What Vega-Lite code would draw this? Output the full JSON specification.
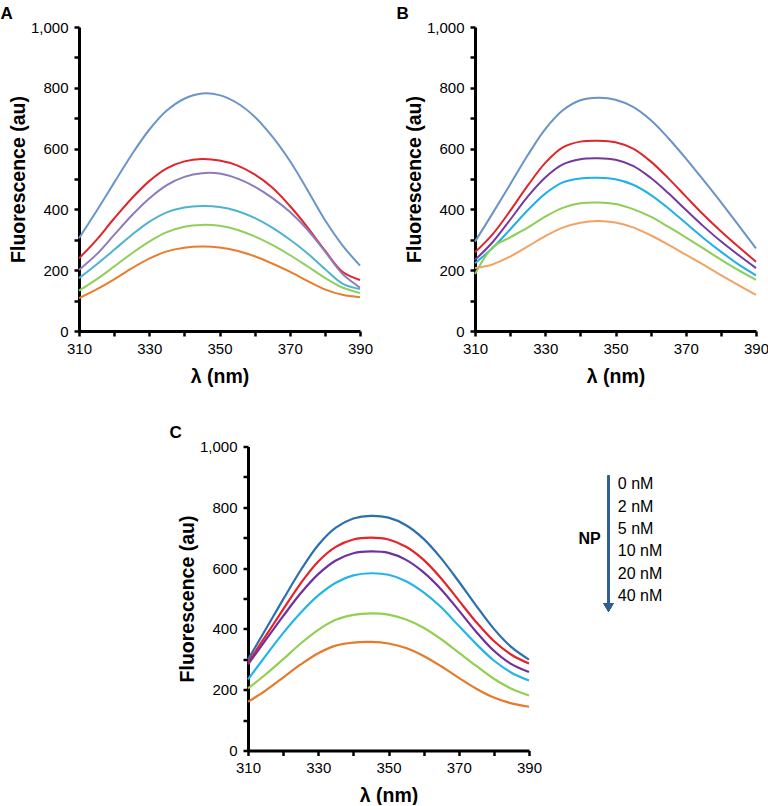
{
  "$schema": "https://vega.github.io/schema/vega-lite/v6.json",
  "padding": {"left": 0, "top": 4, "right": 0, "bottom": 0},
  "config": {
    "view": {"stroke": null},
    "font": "Liberation Sans",
    "axis": {"domainColor": "black", "domainWidth": 3, "tickColor": "black", "tickWidth": 2.5, "tickSize": 5, "labelFont": "Liberation Sans", "labelFontSize": 15, "labelColor": "black", "labelOverlap": false, "labelFlush": false, "titleFont": "Liberation Sans", "titleFontSize": 19.5, "titleFontWeight": "bold", "titleColor": "black", "grid": false},
    "title": {"font": "Liberation Sans", "fontSize": 17, "fontWeight": "bold", "anchor": "start", "color": "black", "offset": -2.5, "dx": -8}
  },
  "datasets": {
    "a": [
      {"nm":310,"np":"0 nM","f":305},{"nm":315,"np":"0 nM","f":395},{"nm":320,"np":"0 nM","f":488},{"nm":325,"np":"0 nM","f":580},{"nm":330,"np":"0 nM","f":662},{"nm":335,"np":"0 nM","f":725},{"nm":340,"np":"0 nM","f":764},{"nm":345,"np":"0 nM","f":781},{"nm":350,"np":"0 nM","f":776},{"nm":355,"np":"0 nM","f":750},{"nm":360,"np":"0 nM","f":705},{"nm":365,"np":"0 nM","f":640},{"nm":370,"np":"0 nM","f":560},{"nm":375,"np":"0 nM","f":465},{"nm":380,"np":"0 nM","f":365},{"nm":385,"np":"0 nM","f":282},{"nm":390,"np":"0 nM","f":215},
      {"nm":310,"np":"2 nM","f":239},{"nm":315,"np":"2 nM","f":300},{"nm":320,"np":"2 nM","f":370},{"nm":325,"np":"2 nM","f":436},{"nm":330,"np":"2 nM","f":493},{"nm":335,"np":"2 nM","f":535},{"nm":340,"np":"2 nM","f":558},{"nm":345,"np":"2 nM","f":566},{"nm":350,"np":"2 nM","f":561},{"nm":355,"np":"2 nM","f":545},{"nm":360,"np":"2 nM","f":515},{"nm":365,"np":"2 nM","f":472},{"nm":370,"np":"2 nM","f":412},{"nm":375,"np":"2 nM","f":342},{"nm":380,"np":"2 nM","f":265},{"nm":385,"np":"2 nM","f":195},{"nm":390,"np":"2 nM","f":168},
      {"nm":310,"np":"5 nM","f":201},{"nm":315,"np":"5 nM","f":252},{"nm":320,"np":"5 nM","f":316},{"nm":325,"np":"5 nM","f":380},{"nm":330,"np":"5 nM","f":436},{"nm":335,"np":"5 nM","f":480},{"nm":340,"np":"5 nM","f":507},{"nm":345,"np":"5 nM","f":519},{"nm":350,"np":"5 nM","f":518},{"nm":355,"np":"5 nM","f":502},{"nm":360,"np":"5 nM","f":475},{"nm":365,"np":"5 nM","f":438},{"nm":370,"np":"5 nM","f":392},{"nm":375,"np":"5 nM","f":334},{"nm":380,"np":"5 nM","f":262},{"nm":385,"np":"5 nM","f":188},{"nm":390,"np":"5 nM","f":143},
      {"nm":310,"np":"10 nM","f":174},{"nm":315,"np":"10 nM","f":219},{"nm":320,"np":"10 nM","f":267},{"nm":325,"np":"10 nM","f":316},{"nm":330,"np":"10 nM","f":359},{"nm":335,"np":"10 nM","f":390},{"nm":340,"np":"10 nM","f":406},{"nm":345,"np":"10 nM","f":411},{"nm":350,"np":"10 nM","f":408},{"nm":355,"np":"10 nM","f":395},{"nm":360,"np":"10 nM","f":372},{"nm":365,"np":"10 nM","f":340},{"nm":370,"np":"10 nM","f":301},{"nm":375,"np":"10 nM","f":256},{"nm":380,"np":"10 nM","f":204},{"nm":385,"np":"10 nM","f":156},{"nm":390,"np":"10 nM","f":138},
      {"nm":310,"np":"20 nM","f":133},{"nm":315,"np":"20 nM","f":170},{"nm":320,"np":"20 nM","f":212},{"nm":325,"np":"20 nM","f":255},{"nm":330,"np":"20 nM","f":294},{"nm":335,"np":"20 nM","f":325},{"nm":340,"np":"20 nM","f":343},{"nm":345,"np":"20 nM","f":349},{"nm":350,"np":"20 nM","f":346},{"nm":355,"np":"20 nM","f":333},{"nm":360,"np":"20 nM","f":311},{"nm":365,"np":"20 nM","f":283},{"nm":370,"np":"20 nM","f":250},{"nm":375,"np":"20 nM","f":213},{"nm":380,"np":"20 nM","f":175},{"nm":385,"np":"20 nM","f":143},{"nm":390,"np":"20 nM","f":125},
      {"nm":310,"np":"40 nM","f":108},{"nm":315,"np":"40 nM","f":137},{"nm":320,"np":"40 nM","f":170},{"nm":325,"np":"40 nM","f":206},{"nm":330,"np":"40 nM","f":238},{"nm":335,"np":"40 nM","f":262},{"nm":340,"np":"40 nM","f":274},{"nm":345,"np":"40 nM","f":278},{"nm":350,"np":"40 nM","f":275},{"nm":355,"np":"40 nM","f":264},{"nm":360,"np":"40 nM","f":246},{"nm":365,"np":"40 nM","f":222},{"nm":370,"np":"40 nM","f":195},{"nm":375,"np":"40 nM","f":165},{"nm":380,"np":"40 nM","f":137},{"nm":385,"np":"40 nM","f":119},{"nm":390,"np":"40 nM","f":111}
    ],
    "b": [
      {"nm":310,"np":"0 nM","f":294},{"nm":315,"np":"0 nM","f":387},{"nm":320,"np":"0 nM","f":482},{"nm":325,"np":"0 nM","f":578},{"nm":330,"np":"0 nM","f":664},{"nm":335,"np":"0 nM","f":726},{"nm":340,"np":"0 nM","f":759},{"nm":345,"np":"0 nM","f":767},{"nm":350,"np":"0 nM","f":761},{"nm":355,"np":"0 nM","f":737},{"nm":360,"np":"0 nM","f":694},{"nm":365,"np":"0 nM","f":635},{"nm":370,"np":"0 nM","f":568},{"nm":375,"np":"0 nM","f":497},{"nm":380,"np":"0 nM","f":424},{"nm":385,"np":"0 nM","f":348},{"nm":390,"np":"0 nM","f":272},
      {"nm":310,"np":"2 nM","f":259},{"nm":315,"np":"2 nM","f":318},{"nm":320,"np":"2 nM","f":395},{"nm":325,"np":"2 nM","f":478},{"nm":330,"np":"2 nM","f":553},{"nm":335,"np":"2 nM","f":604},{"nm":340,"np":"2 nM","f":623},{"nm":345,"np":"2 nM","f":626},{"nm":350,"np":"2 nM","f":621},{"nm":355,"np":"2 nM","f":600},{"nm":360,"np":"2 nM","f":558},{"nm":365,"np":"2 nM","f":503},{"nm":370,"np":"2 nM","f":443},{"nm":375,"np":"2 nM","f":383},{"nm":380,"np":"2 nM","f":328},{"nm":385,"np":"2 nM","f":277},{"nm":390,"np":"2 nM","f":228},
      {"nm":310,"np":"5 nM","f":234},{"nm":315,"np":"5 nM","f":292},{"nm":320,"np":"5 nM","f":366},{"nm":325,"np":"5 nM","f":442},{"nm":330,"np":"5 nM","f":505},{"nm":335,"np":"5 nM","f":548},{"nm":340,"np":"5 nM","f":565},{"nm":345,"np":"5 nM","f":568},{"nm":350,"np":"5 nM","f":563},{"nm":355,"np":"5 nM","f":543},{"nm":360,"np":"5 nM","f":504},{"nm":365,"np":"5 nM","f":454},{"nm":370,"np":"5 nM","f":399},{"nm":375,"np":"5 nM","f":345},{"nm":380,"np":"5 nM","f":295},{"nm":385,"np":"5 nM","f":250},{"nm":390,"np":"5 nM","f":207},
      {"nm":310,"np":"10 nM","f":223},{"nm":315,"np":"10 nM","f":273},{"nm":320,"np":"10 nM","f":334},{"nm":325,"np":"10 nM","f":397},{"nm":330,"np":"10 nM","f":452},{"nm":335,"np":"10 nM","f":489},{"nm":340,"np":"10 nM","f":502},{"nm":345,"np":"10 nM","f":504},{"nm":350,"np":"10 nM","f":499},{"nm":355,"np":"10 nM","f":481},{"nm":360,"np":"10 nM","f":448},{"nm":365,"np":"10 nM","f":404},{"nm":370,"np":"10 nM","f":355},{"nm":375,"np":"10 nM","f":306},{"nm":380,"np":"10 nM","f":261},{"nm":385,"np":"10 nM","f":219},{"nm":390,"np":"10 nM","f":183},
      {"nm":310,"np":"20 nM","f":187},{"nm":315,"np":"20 nM","f":275},{"nm":320,"np":"20 nM","f":308},{"nm":325,"np":"20 nM","f":340},{"nm":330,"np":"20 nM","f":376},{"nm":335,"np":"20 nM","f":405},{"nm":340,"np":"20 nM","f":420},{"nm":345,"np":"20 nM","f":423},{"nm":350,"np":"20 nM","f":418},{"nm":355,"np":"20 nM","f":401},{"nm":360,"np":"20 nM","f":376},{"nm":365,"np":"20 nM","f":343},{"nm":370,"np":"20 nM","f":308},{"nm":375,"np":"20 nM","f":272},{"nm":380,"np":"20 nM","f":235},{"nm":385,"np":"20 nM","f":200},{"nm":390,"np":"20 nM","f":168},
      {"nm":310,"np":"40 nM","f":207},{"nm":315,"np":"40 nM","f":219},{"nm":320,"np":"40 nM","f":245},{"nm":325,"np":"40 nM","f":278},{"nm":330,"np":"40 nM","f":312},{"nm":335,"np":"40 nM","f":340},{"nm":340,"np":"40 nM","f":356},{"nm":345,"np":"40 nM","f":362},{"nm":350,"np":"40 nM","f":357},{"nm":355,"np":"40 nM","f":341},{"nm":360,"np":"40 nM","f":315},{"nm":365,"np":"40 nM","f":284},{"nm":370,"np":"40 nM","f":251},{"nm":375,"np":"40 nM","f":218},{"nm":380,"np":"40 nM","f":184},{"nm":385,"np":"40 nM","f":151},{"nm":390,"np":"40 nM","f":119}
    ],
    "c": [
      {"nm":310,"np":"0 nM","f":299},{"nm":315,"np":"0 nM","f":398},{"nm":320,"np":"0 nM","f":497},{"nm":325,"np":"0 nM","f":593},{"nm":330,"np":"0 nM","f":676},{"nm":335,"np":"0 nM","f":733},{"nm":340,"np":"0 nM","f":763},{"nm":345,"np":"0 nM","f":772},{"nm":350,"np":"0 nM","f":766},{"nm":355,"np":"0 nM","f":741},{"nm":360,"np":"0 nM","f":696},{"nm":365,"np":"0 nM","f":632},{"nm":370,"np":"0 nM","f":556},{"nm":375,"np":"0 nM","f":476},{"nm":380,"np":"0 nM","f":400},{"nm":385,"np":"0 nM","f":340},{"nm":390,"np":"0 nM","f":299},
      {"nm":310,"np":"2 nM","f":289},{"nm":315,"np":"2 nM","f":376},{"nm":320,"np":"2 nM","f":464},{"nm":325,"np":"2 nM","f":550},{"nm":330,"np":"2 nM","f":622},{"nm":335,"np":"2 nM","f":670},{"nm":340,"np":"2 nM","f":694},{"nm":345,"np":"2 nM","f":700},{"nm":350,"np":"2 nM","f":694},{"nm":355,"np":"2 nM","f":670},{"nm":360,"np":"2 nM","f":627},{"nm":365,"np":"2 nM","f":566},{"nm":370,"np":"2 nM","f":494},{"nm":375,"np":"2 nM","f":422},{"nm":380,"np":"2 nM","f":360},{"nm":385,"np":"2 nM","f":315},{"nm":390,"np":"2 nM","f":286},
      {"nm":310,"np":"5 nM","f":283},{"nm":315,"np":"5 nM","f":363},{"nm":320,"np":"5 nM","f":442},{"nm":325,"np":"5 nM","f":517},{"nm":330,"np":"5 nM","f":580},{"nm":335,"np":"5 nM","f":625},{"nm":340,"np":"5 nM","f":649},{"nm":345,"np":"5 nM","f":655},{"nm":350,"np":"5 nM","f":650},{"nm":355,"np":"5 nM","f":627},{"nm":360,"np":"5 nM","f":586},{"nm":365,"np":"5 nM","f":530},{"nm":370,"np":"5 nM","f":461},{"nm":375,"np":"5 nM","f":390},{"nm":380,"np":"5 nM","f":328},{"nm":385,"np":"5 nM","f":284},{"nm":390,"np":"5 nM","f":258},
      {"nm":310,"np":"10 nM","f":234},{"nm":315,"np":"10 nM","f":311},{"nm":320,"np":"10 nM","f":386},{"nm":325,"np":"10 nM","f":453},{"nm":330,"np":"10 nM","f":510},{"nm":335,"np":"10 nM","f":552},{"nm":340,"np":"10 nM","f":576},{"nm":345,"np":"10 nM","f":583},{"nm":350,"np":"10 nM","f":578},{"nm":355,"np":"10 nM","f":557},{"nm":360,"np":"10 nM","f":520},{"nm":365,"np":"10 nM","f":471},{"nm":370,"np":"10 nM","f":410},{"nm":375,"np":"10 nM","f":350},{"nm":380,"np":"10 nM","f":296},{"nm":385,"np":"10 nM","f":256},{"nm":390,"np":"10 nM","f":230},
      {"nm":310,"np":"20 nM","f":204},{"nm":315,"np":"20 nM","f":250},{"nm":320,"np":"20 nM","f":300},{"nm":325,"np":"20 nM","f":352},{"nm":330,"np":"20 nM","f":397},{"nm":335,"np":"20 nM","f":430},{"nm":340,"np":"20 nM","f":446},{"nm":345,"np":"20 nM","f":451},{"nm":350,"np":"20 nM","f":447},{"nm":355,"np":"20 nM","f":431},{"nm":360,"np":"20 nM","f":404},{"nm":365,"np":"20 nM","f":366},{"nm":370,"np":"20 nM","f":322},{"nm":375,"np":"20 nM","f":278},{"nm":380,"np":"20 nM","f":236},{"nm":385,"np":"20 nM","f":203},{"nm":390,"np":"20 nM","f":181},
      {"nm":310,"np":"40 nM","f":160},{"nm":315,"np":"40 nM","f":197},{"nm":320,"np":"40 nM","f":240},{"nm":325,"np":"40 nM","f":283},{"nm":330,"np":"40 nM","f":320},{"nm":335,"np":"40 nM","f":345},{"nm":340,"np":"40 nM","f":355},{"nm":345,"np":"40 nM","f":357},{"nm":350,"np":"40 nM","f":352},{"nm":355,"np":"40 nM","f":337},{"nm":360,"np":"40 nM","f":311},{"nm":365,"np":"40 nM","f":277},{"nm":370,"np":"40 nM","f":239},{"nm":375,"np":"40 nM","f":203},{"nm":380,"np":"40 nM","f":174},{"nm":385,"np":"40 nM","f":155},{"nm":390,"np":"40 nM","f":144}
    ],
    "legend": [
      {"label": "0 nM", "rank": 1},
      {"label": "2 nM", "rank": 2},
      {"label": "5 nM", "rank": 3},
      {"label": "10 nM", "rank": 4},
      {"label": "20 nM", "rank": 5},
      {"label": "40 nM", "rank": 6}
    ]
  },
  "resolve": {"scale": {"x": "independent", "y": "independent", "color": "independent"}},
  "spacing": 37.5,
  "vconcat": [
    {
      "spacing": 23,
      "resolve": {"scale": {"x": "independent", "y": "independent", "color": "independent"}},
      "hconcat": [
        {
          "width": 281, "height": 304,
          "title": "A",
          "data": {"name": "a"},
          "mark": {"type": "line", "interpolate": "catmull-rom", "strokeWidth": 2},
          "encoding": {
            "x": {"field": "nm", "type": "quantitative", "title": "λ (nm)", "scale": {"domain": [310, 390], "nice": false, "zero": false}, "axis": {"values": [310, 320, 330, 340, 350, 360, 370, 380, 390], "labelExpr": "(datum.value - 310) % 20 === 0 ? datum.label : ''", "labelPadding": 5, "titlePadding": 11}},
            "y": {"field": "f", "type": "quantitative", "title": "Fluorescence (au)", "scale": {"domain": [0, 1000], "nice": false}, "axis": {"values": [0, 100, 200, 300, 400, 500, 600, 700, 800, 900, 1000], "labelExpr": "datum.value % 200 === 0 ? format(datum.value, ',') : ''", "labelPadding": 6, "titlePadding": 2}},
            "color": {"field": "np", "type": "nominal", "legend": null, "scale": {"domain": ["0 nM", "2 nM", "5 nM", "10 nM", "20 nM", "40 nM"], "range": ["#6a95c9", "#e0262c", "#8d7bbd", "#4fb3cf", "#8fcf5a", "#e97d2d"]}}
          }
        },
        {
          "width": 281, "height": 304,
          "title": "B",
          "data": {"name": "b"},
          "mark": {"type": "line", "interpolate": "catmull-rom", "strokeWidth": 2},
          "encoding": {
            "x": {"field": "nm", "type": "quantitative", "title": "λ (nm)", "scale": {"domain": [310, 390], "nice": false, "zero": false}, "axis": {"values": [310, 320, 330, 340, 350, 360, 370, 380, 390], "labelExpr": "(datum.value - 310) % 20 === 0 ? datum.label : ''", "labelPadding": 5, "titlePadding": 11}},
            "y": {"field": "f", "type": "quantitative", "title": "Fluorescence (au)", "scale": {"domain": [0, 1000], "nice": false}, "axis": {"values": [0, 100, 200, 300, 400, 500, 600, 700, 800, 900, 1000], "labelExpr": "datum.value % 200 === 0 ? format(datum.value, ',') : ''", "labelPadding": 6, "titlePadding": 2}},
            "color": {"field": "np", "type": "nominal", "legend": null, "scale": {"domain": ["0 nM", "2 nM", "5 nM", "10 nM", "20 nM", "40 nM"], "range": ["#6a93c5", "#e0252b", "#7438a0", "#1fb1e6", "#8bcf55", "#f2a264"]}}
          }
        }
      ]
    },
    {
      "spacing": 28,
      "resolve": {"scale": {"x": "independent", "y": "independent", "color": "independent"}},
      "hconcat": [
        {
          "width": 62, "height": 10,
          "data": {"values": []},
          "mark": "point"
        },
        {
          "width": 281, "height": 304,
          "title": "C",
          "data": {"name": "c"},
          "mark": {"type": "line", "interpolate": "catmull-rom", "strokeWidth": 2.2},
          "encoding": {
            "x": {"field": "nm", "type": "quantitative", "title": "λ (nm)", "scale": {"domain": [310, 390], "nice": false, "zero": false}, "axis": {"values": [310, 320, 330, 340, 350, 360, 370, 380, 390], "labelExpr": "(datum.value - 310) % 20 === 0 ? datum.label : ''", "labelPadding": 5, "titlePadding": 11}},
            "y": {"field": "f", "type": "quantitative", "title": "Fluorescence (au)", "scale": {"domain": [0, 1000], "nice": false}, "axis": {"values": [0, 100, 200, 300, 400, 500, 600, 700, 800, 900, 1000], "labelExpr": "datum.value % 200 === 0 ? format(datum.value, ',') : ''", "labelPadding": 6, "titlePadding": 2}},
            "color": {"field": "np", "type": "nominal", "legend": null, "scale": {"domain": ["0 nM", "2 nM", "5 nM", "10 nM", "20 nM", "40 nM"], "range": ["#2a6fae", "#e4232a", "#7030a0", "#25b4e8", "#92d050", "#e57b2a"]}}
          }
        },
        {
          "width": 110, "height": 194,
          "data": {"name": "legend"},
          "layer": [
            {
              "mark": {"type": "rule", "color": "#2e5f91", "strokeWidth": 2},
              "encoding": {
                "x": {"datum": 3.5, "type": "quantitative", "scale": {"domain": [0, 10], "nice": false, "zero": false}, "axis": null},
                "y": {"datum": 0.6, "type": "quantitative", "scale": {"domain": [8, -0.7], "nice": false, "zero": false}, "axis": null},
                "y2": {"datum": 6.35}
              }
            },
            {
              "mark": {"type": "point", "shape": "triangle-down", "filled": true, "color": "#2e5f91", "opacity": 1, "size": 110},
              "encoding": {
                "x": {"datum": 3.5, "type": "quantitative"},
                "y": {"datum": 6.52, "type": "quantitative"}
              }
            },
            {
              "mark": {"type": "text", "align": "left", "baseline": "middle", "fontSize": 16, "font": "Liberation Sans", "color": "black"},
              "encoding": {
                "x": {"datum": 4.35, "type": "quantitative"},
                "y": {"field": "rank", "type": "quantitative"},
                "text": {"field": "label"}
              }
            },
            {
              "data": {"values": [{"name": "NP"}]},
              "mark": {"type": "text", "align": "right", "baseline": "middle", "fontSize": 16, "fontWeight": "bold", "font": "Liberation Sans", "color": "black"},
              "encoding": {
                "x": {"datum": 2.8, "type": "quantitative"},
                "y": {"datum": 3.45, "type": "quantitative"},
                "text": {"field": "name"}
              }
            }
          ]
        }
      ]
    }
  ]
}
